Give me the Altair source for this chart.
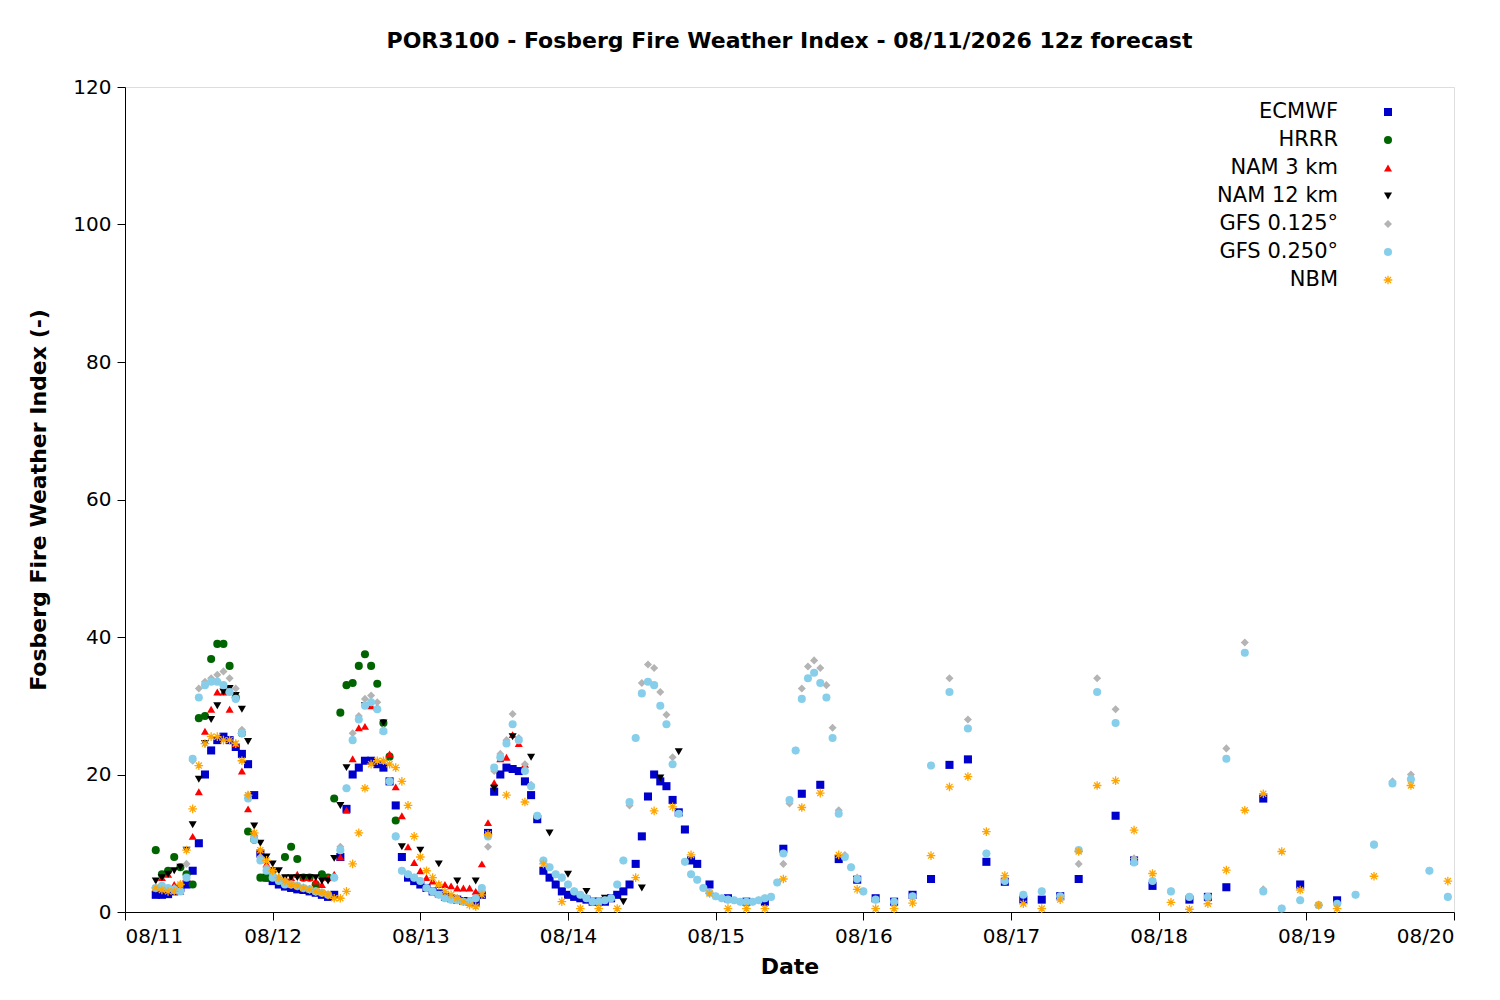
import altair as alt
import pandas as pd

# hours since 08/11 00z (None = no point)
ecmwf_hourly = [2.5, 2.5, 2.6, 3, 3.5, 4, 6, 10,
                20, 23.5, 25, 25.5, 25, 24, 23, 21.5, 17, 8.5,
                5, 4.5, 4, 3.7, 3.5, 3.3, 3.2, 3, 2.8, 2.5, 2.2, 2.5,
                8, 15, 20, 21, 22, 22, 21.5, 21, 19, 15.5, 8, 5,
                4.5, 4, 3.5, 3, 2.7, 2.2, 2, 1.8, 1.6, 1.5, 1.5, 2.5,
                11.5, 17.5, 20, 21, 20.8, 20.5, 19, 17, 13.5, 6, 5, 4,
                3, 2.5, 2.2, 2, 1.8, 1.5, 1.5, 1.5, 2, 2.5, 3, 4,
                7, 11, 16.8, 20, 19, 18.3, 16.3, 14.5, 12, 7.5, 7]
ecmwf_3h = [4, 2, 1.5, 1.5, 9.2, 17.2, 18.5, 7.7, 4.7, 2, 1.5, 2.5, 4.8,
            21.4, 22.2, 7.3, 4.4, 1.8, 1.8, 2.3, 4.8, None, 14, 7.5, 3.8, None, 1.8,
            2.2, 3.6, None, 16.5, None, 4, None, 1.7]

hrrr_hourly = [9, 5.5, 6, 8, 6.5, 5.5, 4, 28.2, 28.5, 36.8,
               39, 39, 35.8, 31.2, 26, 11.7, 10.5, 5, 5, 6,
               4.5, 8, 9.5, 7.7, 5, 5, 4, 5.5, 5, 16.5,
               29, 33, 33.3, 35.8, 37.5, 35.8, 33.2, 27.5, 22.6, 13.3]

nam3_hourly = [3.5, 5, 5.5, 4, 3, 5, 11, 17.5, 26.3, 29.5, 32, 32, 29.5, 24.5, 20.5, 15,
               11.5, 9, 7, 5.5, 5, 5, 5, 5.5, 5, 5, 4.5, 4, 5, 5.5, 8, 14.8, 22.3, 26.8,
               27, 30, 29.8, 26.5, 23, 18.2, 14, 9.5, 7.2, 6, 5, 4.5, 4, 4, 3.8, 3.5, 3.5,
               3.5, 3, 7, 13, 18.8, 22.3, 22.5, 25.8, 24.5, 21.5]

nam12_hourly = [4.5, 5, 5.5, 6, 6.5, 9, 12.7, 19.3, 24.5, 28, 30, 32, 32.5, 31.5, 29.5, 24.8,
                12.5, 10, 8, 7, 6, 5, 5, 5, 5, 5, 5, 4.5, 4.5, 7.8, 15.5, 21]
nam12_3h = [30, 27.5, 9.5, 9, 7, 4.5, 4.5, 18, 25.5, 22.5, 11.5, 5.5, 3, 2, 1.5, 3.5, 19.5, 23.3]

gfs25_hourly = [3.5, 3.8, 3.5, 3.2, 3, 5, 22.3, 31.2,
                33, 33.5, 33.5, 33, 32, 31, 26, 16.5, 10.5, 7.5,
                6, 5, 4.5, 4, 4, 3.8, 3.5, 3.3, 3, 2.8, 2.5, 5,
                9, 18, 25, 28, 30, 30.5, 29.5, 26.3, 19, 11, 6, 5.5,
                5, 4.5, 3.5, 3, 2.5, 2, 1.8, 1.7, 1.5, 1.5, 2, 3.5,
                11, 21, 22.5, 24.5, 27.3, 25, 20.5, 18.3, 14, 7.5, 6.5, 5.5,
                5, 4, 3, 2.5, 2, 1.5, 1.5, 1.7, 2, 4, 7.5, 16,
                25.3, 31.8, 33.5, 33, 30, 27.3, 21.5, 14.3, 7.3, 5.5, 4.7, 3.5,
                2.8, 2.3, 2, 1.8, 1.7, 1.5, 1.5, 1.5, 1.7, 2, 2.2, 4.3,
                8.5, 16.3, 23.5, 31, 34, 34.8, 33.3, 31.2, 25.3, 14.3, 8, 6.5, 4.8, 3]
gfs25_3h = [1.8, 1.5, 2.3, 21.3, 32, 26.7, 8.5, 4.5, 2.5, 3, 2.3, 9, 32, 27.5, 7.2, 4.5,
            3, 2.2, 2.2, 22.3, 37.7, 3, 0.5, 1.7, 1, 1.2, 2.5, 9.8, 18.7, 19.3, 6, 2.2]

gfs125_hourly = [3.5, 3.8, 3.5, 3.5, 4, 7, 22, 32.5,
                 33.5, 34, 34.5, 35, 34, 32.5, 26.5, 17, 11, 8,
                 6.5, 5.5, 5, 4.5, 4, 3.8, 3.5, 3.3, 3, 2.8, 2.5, 5,
                 9.5, 18, 26, 28.5, 31, 31.5, 30.5, 26.5, 19, 11, 6, 5.5,
                 5, 4.5, 3.5, 3, 2.5, 2, 1.8, 1.7, 1.5, 1.5, 2, 3,
                 9.5, 20.5, 23, 25, 28.8, 25.3, 21.5, 18.5, 14, 7.5, 6.5, 5.5,
                 5, 4, 3, 2.5, 2, 1.5, 1.5, 1.7, 2, 4, 7.5, 15.5,
                 25.3, 33.3, 36, 35.5, 32, 28.7, 22.5, 14.3, 7.3, 5.5, 4.7, 3.5,
                 2.8, 2.3, 2, 1.8, 1.7, 1.5, 1.5, 1.5, 1.7, 2, 2.2, 4.3,
                 7, 15.8, 23.5, 32.5, 35.7, 36.6, 35.5, 33, 26.8, 14.8, 8.3, 6.5, 5, 3]
gfs125_3h = [1.8, 1.5, 2.3, 21.3, 34, 28, 8.5, 4.5, 2.5, 3, 2.3, 7, 34, 29.5, 7.8, 4.5,
             3, 2.2, 2.2, 23.8, 39.2, 3.3, 0.5, 1.7, 1, 1.2, 2.5, 9.8, 19, 20, 6, 2.2]

nbm_hourly = [3.5, 3.2, 3, 3, 4, 9, 15, 21.3, 24.5, 25.5, 25.5, 25, 25, 24.5, 22, 17,
              11.5, 9, 7.5, 6, 5, 4.5, 4, 3.8, 3.5, 3.3, 3, 2.8, 2.5, 2, 2, 3, 7, 11.5,
              18, 21.5, 22, 22, 21.5, 21, 19, 15.5, 11, 8, 6, 5, 4, 3, 2.5, 2, 1.5, 1,
              0.8, 2.5]
nbm_3h = [11.3, 17, 16, 7, 1.5, 0.5, 0.5, 0.5, 5, 14.7, 15.3, 8.3, 2.7, 0.5, 0.5, 0.5,
          4.8, 15.2, 17.3, 8.3, 3.3, 0.5, 0.5, 1.3, 8.2, 18.2, 19.7, 11.7, 5.3, 1.2, 0.5,
          1.8, 8.8, 18.4, 19.1, 11.9, 5.6, 1.4, 0.4, 1.2, 6.1, 14.8, 17.2, 8.8, 3.2, 1,
          0.5, None, 5.2, None, 18.4, None, 4.5]

names = ["ECMWF", "HRRR", "NAM 3 km", "NAM 12 km", "GFS 0.125°", "GFS 0.250°", "NBM"]
colors = ["#0000cc", "#006400", "#ff0000", "#000000", "#b4b4b4", "#87ceeb", "#ffa500"]
shapes = ["square", "circle", "triangle-up", "triangle-down", "diamond", "circle",
          "M-1,0L1,0M0,-1L0,1M-0.7,-0.7L0.7,0.7M-0.7,0.7L0.7,-0.7"]

segments = {
    "ECMWF": [(5, 1, ecmwf_hourly), (95, 3, ecmwf_3h)],
    "HRRR": [(5, 1, hrrr_hourly)],
    "NAM 3 km": [(5, 1, nam3_hourly)],
    "NAM 12 km": [(5, 1, nam12_hourly), (39, 3, nam12_3h)],
    "GFS 0.125°": [(5, 1, gfs125_hourly), (122, 3, gfs125_3h)],
    "GFS 0.250°": [(5, 1, gfs25_hourly), (122, 3, gfs25_3h)],
    "NBM": [(5, 1, nbm_hourly), (59, 3, nbm_3h)],
}

t0 = pd.Timestamp("2026-08-11")
rows = []
for name, segs in segments.items():
    for start, step, vals in segs:
        for i, v in enumerate(vals):
            if v is not None:
                rows.append({"model": name, "time": t0 + pd.Timedelta(hours=start + i * step), "fwi": v})
df = pd.DataFrame(rows)

axis_style = dict(labelFont="DejaVu Sans", titleFont="DejaVu Sans", labelFontSize=20,
                  titleFontSize=22, labelColor="black", titleColor="black",
                  domainColor="black", tickColor="black", titleFontWeight="bold",
                  tickSize=8, grid=False, labelPadding=6)

xdom = [t0.isoformat(), (t0 + pd.Timedelta(days=9)).isoformat()]
x = alt.X("time:T", title="Date", scale=alt.Scale(domain=xdom),
          axis=alt.Axis(format="%m/%d", tickCount={"interval": "day", "step": 1},
                        titlePadding=10, **axis_style))
y = alt.Y("fwi:Q", title="Fosberg Fire Weather Index (-)",
          scale=alt.Scale(domain=[0, 120]),
          axis=alt.Axis(values=list(range(0, 121, 20)), titlePadding=22, **axis_style))

layers = []
for n, c, s in zip(names, colors, shapes):
    filled = n != "NBM"
    layers.append(alt.Chart(df[df.model == n]).mark_point(
        shape=s, color=c, filled=filled, opacity=1, size=65 if filled else 75,
        strokeWidth=1.3).encode(x=x, y=y))

# gnuplot-style key, labels to the left of the symbol
leg = pd.DataFrame({"model": names, "ly": [25 + 28 * i for i in range(7)]})
for n, c, s in zip(names, colors, shapes):
    filled = n != "NBM"
    d = leg[leg.model == n]
    layers.append(alt.Chart(d).mark_text(align="right", baseline="middle", fontSize=21,
                                         font="DejaVu Sans").encode(
        x=alt.value(1213), y=alt.Y("ly:Q", scale=None), text="model:N"))
    layers.append(alt.Chart(d).mark_point(shape=s, color=c, filled=filled, opacity=1,
                                          size=65 if filled else 75, strokeWidth=1.3).encode(
        x=alt.value(1263), y=alt.Y("ly:Q", scale=None)))

chart = alt.layer(*layers).properties(
    width=1329, height=825,
    title=alt.Title("POR3100 - Fosberg Fire Weather Index - 08/11/2026 12z forecast",
                    fontSize=22, font="DejaVu Sans", fontWeight="bold", offset=24),
).configure_view(stroke="black", strokeWidth=1).configure(
    padding={"left": 19, "top": 22, "right": 20, "bottom": 5})

chart.save("out.html", embed_options={"renderer": "svg", "actions": False})
